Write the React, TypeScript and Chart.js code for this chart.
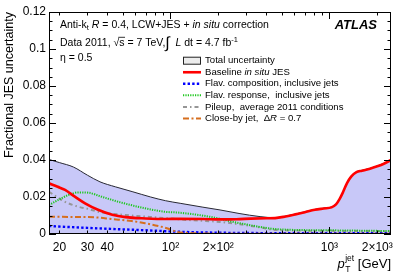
import React, { useEffect, useRef } from "react";
import { Chart, registerables } from "chart.js";

Chart.register(...registerables);

const FONT = '"Liberation Sans", Arial, Helvetica, sans-serif';

// ---- axes ----
const xMin = 17.2;
const xMax = 2440;
const yMin = 0;
const yMax = 0.12;
const xTickValues = [20, 30, 40, 100, 200, 1000, 2000];
const xTickLabels = ["20", "30", "40", "10²", "2×10²", "10³", "2×10³"];
const xMinorTicks = [20, 30, 40, 50, 60, 70, 80, 90, 200, 300, 400, 500, 600, 700, 800, 900, 2000];
const xMajorTicks = [100, 1000];
const yTickValues = [0, 0.02, 0.04, 0.06, 0.08, 0.1, 0.12];
const yTickLabels = ["0", "0.02", "0.04", "0.06", "0.08", "0.1", "0.12"];

// ---- series (pT in GeV, fractional uncertainty) ----
const totalPt = [17.2, 20, 24.5, 30, 36, 45, 58, 75, 93, 115, 160, 205, 270, 366, 455, 530, 610, 700, 810, 920, 1030, 1100, 1160, 1220, 1290, 1370, 1480, 1600, 1800, 2000, 2200, 2440];
const totalUnc = [0.0403, 0.0386, 0.0362, 0.0318, 0.0282, 0.0255, 0.0228, 0.02, 0.018, 0.0166, 0.0145, 0.013, 0.0111, 0.0094, 0.0088, 0.0097, 0.0108, 0.012, 0.0133, 0.014, 0.0146, 0.0162, 0.0192, 0.023, 0.0277, 0.0312, 0.0336, 0.0344, 0.0355, 0.0368, 0.0382, 0.0402];

const baselinePt = [17.2, 19.5, 21.7, 25, 29, 35, 43, 52, 70, 93, 115, 160, 205, 260, 320, 400, 455, 530, 610, 700, 810, 920, 1030, 1100, 1160, 1220, 1290, 1370, 1480, 1600, 1800, 2000, 2200, 2440];
const baselineUnc = [0.0274, 0.0255, 0.0238, 0.0202, 0.0166, 0.0131, 0.0104, 0.0091, 0.0084, 0.0081, 0.0082, 0.0081, 0.0079, 0.008, 0.0083, 0.0085, 0.0086, 0.0095, 0.0106, 0.0118, 0.0131, 0.0138, 0.0144, 0.016, 0.019, 0.0228, 0.0275, 0.031, 0.0334, 0.0342, 0.0353, 0.0366, 0.038, 0.04];

const flavCompPt = [17.2, 30, 50, 70, 100, 150, 250, 1000, 2440];
const flavCompUnc = [0.0043, 0.0033, 0.0025, 0.002, 0.0014, 0.0009, 0.0006, 0.0004, 0.0004];

const flavRespPt = [17.2, 19.7, 22.8, 26.4, 30.5, 37, 49.4, 69.2, 92.5, 115, 177, 274, 489, 1000, 2440];
const flavRespUnc = [0.0157, 0.0184, 0.0211, 0.0225, 0.0223, 0.0201, 0.0169, 0.0139, 0.012, 0.0115, 0.0093, 0.0058, 0.0025, 0.002, 0.0016];

const pileupPt = [17.2, 21.7, 26.4, 30.5, 35.2, 51.8, 92.5, 126.6, 205, 366, 455, 1000, 2440];
const pileupUnc = [0.0228, 0.0174, 0.0147, 0.0135, 0.012, 0.0103, 0.0086, 0.0076, 0.0065, 0.0036, 0.0022, 0.0017, 0.0015];

const closeByPt = [17.2, 25, 33.6, 42.7, 57.1, 69.2, 84, 94.8, 109.5, 132.8, 200, 2440];
const closeByUnc = [0.0093, 0.0092, 0.009, 0.0081, 0.007, 0.0058, 0.0043, 0.0031, 0.0012, 0.0005, 0.0002, 0.0002];

const legendLabels = [
  "Total uncertainty",
  "Baseline |in situ| JES",
  "Flav. composition, inclusive jets",
  "Flav. response,  inclusive jets",
  "Pileup,  average 2011 conditions",
  "Close-by jet,  Δ|R| = 0.7",
];

// ---- styles ----
const FILL = "rgb(200,200,248)";
const styles = [
  { color: "rgb(40,40,50)", width: 1, dash: [] as number[] },
  { color: "rgb(255,0,0)", width: 2.6, dash: [] as number[] },
  { color: "rgb(0,0,255)", width: 2.4, dash: [2.4, 2.2] },
  { color: "rgb(30,200,30)", width: 2, dash: [1.2, 1.2] },
  { color: "rgb(150,150,150)", width: 2, dash: [4, 3, 1.5, 3] },
  { color: "rgb(214,110,30)", width: 2, dash: [6, 2.5, 2, 2.5] },
];

type Seg = { t: string; size?: number; it?: boolean; b?: boolean; dy?: number; over?: boolean };

function setFont(ctx: CanvasRenderingContext2D, size: number, it?: boolean, b?: boolean) {
  ctx.font = `${it ? "italic " : ""}${b ? "bold " : ""}${size}px ${FONT}`;
}

function drawRich(ctx: CanvasRenderingContext2D, x: number, y: number, segs: Seg[], base: number) {
  let cx = x;
  for (const s of segs) {
    const size = s.size ?? base;
    setFont(ctx, size, s.it, s.b);
    ctx.fillText(s.t, cx, y + (s.dy ?? 0));
    const w = ctx.measureText(s.t).width;
    if (s.over) {
      ctx.save();
      ctx.lineWidth = 0.8;
      ctx.strokeStyle = "#000";
      ctx.beginPath();
      ctx.moveTo(cx - 1, y - size * 0.78);
      ctx.lineTo(cx + w + 0.5, y - size * 0.78);
      ctx.stroke();
      ctx.restore();
    }
    cx += w;
  }
  return cx;
}

function labelSegs(label: string): Seg[] {
  const parts = label.split("|");
  return parts.map((p, i) => ({ t: p, it: i % 2 === 1 }));
}

const overlayPlugin = {
  id: "atlasOverlay",
  afterDatasetsDraw(chart: any) {
    const ctx: CanvasRenderingContext2D = chart.ctx;
    const { left, right, top, bottom } = chart.chartArea;
    const xs = chart.scales.x;
    const ys = chart.scales.y;
    ctx.save();
    ctx.strokeStyle = "#000";
    ctx.lineWidth = 1;
    // frame
    ctx.strokeRect(left + 0.5, top + 0.5, right - left - 1, bottom - top - 1);
    // x ticks
    const drawX = (v: number, len: number) => {
      const px = Math.round(xs.getPixelForValue(v)) + 0.5;
      ctx.beginPath();
      ctx.moveTo(px, bottom);
      ctx.lineTo(px, bottom - len);
      ctx.moveTo(px, top);
      ctx.lineTo(px, top + len);
      ctx.stroke();
    };
    xMinorTicks.forEach((v) => drawX(v, 3.5));
    xMajorTicks.forEach((v) => drawX(v, 7));
    // y ticks
    for (let i = 0; i <= 24; i++) {
      const v = i * 0.005;
      const len = i % 4 === 0 ? 7 : 3.5;
      const py = Math.round(ys.getPixelForValue(v)) + 0.5;
      ctx.beginPath();
      ctx.moveTo(left, py);
      ctx.lineTo(left + len, py);
      ctx.moveTo(right, py);
      ctx.lineTo(right - len, py);
      ctx.stroke();
    }

    ctx.fillStyle = "#000";
    ctx.textBaseline = "alphabetic";
    ctx.textAlign = "left";
    // info text
    drawRich(ctx, 60, 27.8, [
      { t: "Anti-k" },
      { t: "t", size: 7.5, dy: 2.5 },
      { t: " " },
      { t: "R", it: true },
      { t: " = 0.4, LCW+JES + " },
      { t: "in situ", it: true },
      { t: " correction" },
    ], 10.5);
    drawRich(ctx, 60, 45.5, [
      { t: "Data 2011, " },
      { t: "√" },
      { t: "s", over: true },
      { t: " = 7 TeV," },
      { t: "∫", size: 16, dy: 2 },
      { t: "  " },
      { t: "L", it: true },
      { t: " dt = 4.7 fb" },
      { t: "-1", size: 7.5, dy: -4 },
    ], 10.5);
    drawRich(ctx, 60, 61, [{ t: "η = 0.5" }], 10.5);

    // ATLAS
    setFont(ctx, 13, true, true);
    ctx.textAlign = "right";
    ctx.fillText("ATLAS", 377, 28.7);
    ctx.textAlign = "left";

    // legend
    const rowY0 = 60.7;
    const rowDy = 11.55;
    legendLabels.forEach((lab, i) => {
      const cy = rowY0 + i * rowDy;
      if (i === 0) {
        ctx.fillStyle = "#ececec";
        ctx.fillRect(183, cy - 3.5, 17, 7);
        ctx.strokeStyle = "#222";
        ctx.lineWidth = 1;
        ctx.setLineDash([]);
        ctx.strokeRect(183.5, cy - 3.5, 17, 7);
      } else {
        const st = styles[i];
        ctx.strokeStyle = st.color;
        ctx.lineWidth = st.width;
        ctx.setLineDash(st.dash);
        ctx.beginPath();
        ctx.moveTo(183, cy);
        ctx.lineTo(201, cy);
        ctx.stroke();
        ctx.setLineDash([]);
      }
      ctx.fillStyle = "#000";
      ctx.textBaseline = "middle";
      drawRich(ctx, 205, cy, labelSegs(lab), 9.6);
      ctx.textBaseline = "alphabetic";
    });

    // y title
    ctx.save();
    ctx.translate(13, 12);
    ctx.rotate(-Math.PI / 2);
    setFont(ctx, 12.5);
    ctx.textAlign = "right";
    ctx.textBaseline = "alphabetic";
    ctx.fillText("Fractional JES uncertainty", 0, 0);
    ctx.restore();

    // x title
    const base = 268;
    setFont(ctx, 13, true);
    const wp = ctx.measureText("p").width;
    setFont(ctx, 8.5);
    const wT = ctx.measureText("T").width;
    const wj = ctx.measureText("jet").width;
    setFont(ctx, 13);
    const wg = ctx.measureText(" [GeV]").width;
    const total = wp + 0.5 + Math.max(wT, wj) + wg;
    let x0 = right - total;
    setFont(ctx, 13, true);
    ctx.fillText("p", x0, base);
    x0 += wp + 0.5;
    setFont(ctx, 8.5);
    ctx.fillText("T", x0, base + 3.5);
    ctx.fillText("jet", x0, base - 7);
    x0 += Math.max(wT, wj);
    setFont(ctx, 13);
    ctx.fillText(" [GeV]", x0, base);

    ctx.restore();
  },
};

function pts(xv: number[], yv: number[]) {
  return xv.map((x, i) => ({ x, y: yv[i] }));
}

export default function App() {
  const ref = useRef<HTMLCanvasElement | null>(null);
  useEffect(() => {
    if (!ref.current) return;
    const mk = (label: string, xv: number[], yv: number[], i: number, order: number) => ({
      label,
      data: pts(xv, yv),
      borderColor: styles[i].color,
      borderWidth: styles[i].width,
      borderDash: styles[i].dash,
      pointRadius: 0,
      fill: false,
      cubicInterpolationMode: "monotone" as const,
      order,
    });
    const chart = new Chart(ref.current, {
      type: "line",
      data: {
        datasets: [
          mk("Baseline in situ JES", baselinePt, baselineUnc, 1, 0),
          mk("Flav. composition", flavCompPt, flavCompUnc, 2, 3),
          mk("Flav. response", flavRespPt, flavRespUnc, 3, 2),
          mk("Pileup", pileupPt, pileupUnc, 4, 4),
          mk("Close-by jet", closeByPt, closeByUnc, 5, 1),
          {
            ...mk("Total uncertainty", totalPt, totalUnc, 0, 10),
            fill: "origin",
            backgroundColor: FILL,
          },
        ],
      },
      options: {
        responsive: false,
        animation: false,
        events: [],
        layout: { padding: { left: 0, right: 16, top: 12, bottom: 0 } },
        plugins: { legend: { display: false }, tooltip: { enabled: false } },
        scales: {
          x: {
            type: "logarithmic",
            min: xMin,
            max: xMax,
            grid: { display: false, drawTicks: false },
            border: { display: false },
            afterBuildTicks: (s: any) => {
              s.ticks = xTickValues.map((v) => ({ value: v }));
            },
            afterFit: (s: any) => {
              s.height = 42;
            },
            ticks: {
              autoSkip: false,
              maxRotation: 0,
              padding: 6,
              color: "#000",
              font: { family: FONT, size: 12 },
              callback: (v: any) => {
                const i = xTickValues.indexOf(Number(v));
                return i >= 0 ? xTickLabels[i] : "";
              },
            },
          },
          y: {
            type: "linear",
            min: yMin,
            max: yMax,
            grid: { display: false, drawTicks: false },
            border: { display: false },
            afterBuildTicks: (s: any) => {
              s.ticks = yTickValues.map((v) => ({ value: v }));
            },
            afterFit: (s: any) => {
              s.width = 49;
            },
            ticks: {
              padding: 3,
              color: "#000",
              font: { family: FONT, size: 12 },
              callback: (v: any) => {
                const i = yTickValues.findIndex((t) => Math.abs(t - Number(v)) < 1e-9);
                return i >= 0 ? yTickLabels[i] : "";
              },
            },
          },
        },
      },
      plugins: [overlayPlugin],
    });
    return () => chart.destroy();
  }, []);
  return (
    <div style={{ position: "fixed", left: 0, top: 0, width: 407, height: 276, background: "#fff" }}>
      <canvas ref={ref} width={407} height={276} style={{ display: "block" }} />
    </div>
  );
}
